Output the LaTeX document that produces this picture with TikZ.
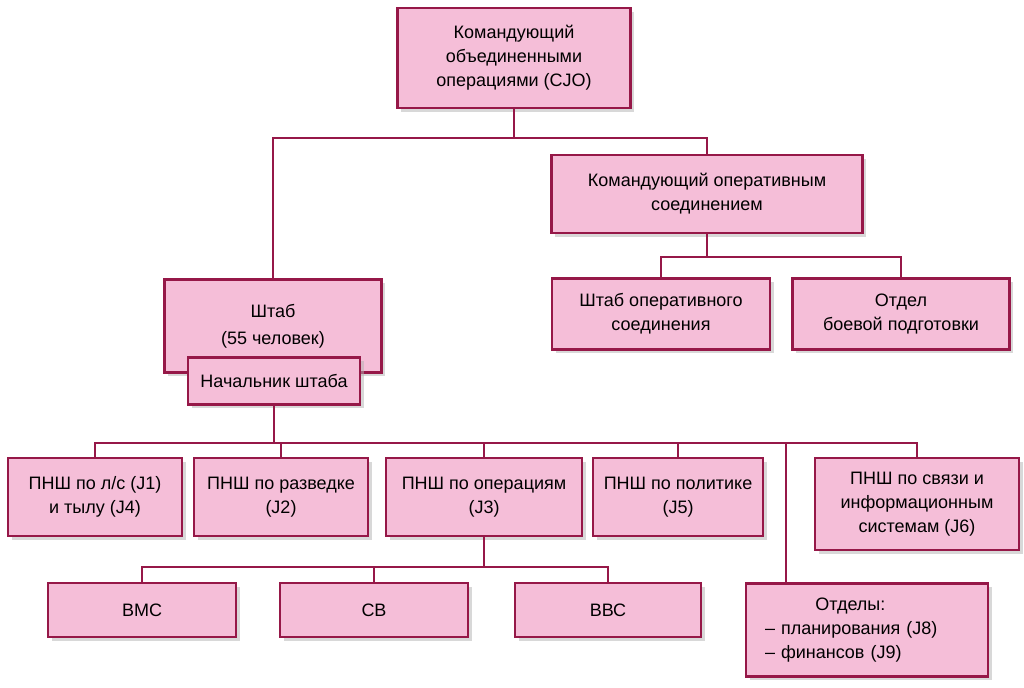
\documentclass[tikz,border=0pt]{standalone}
\usepackage{fontspec}
\setmainfont{Liberation Sans}
\usepackage{xcolor}
\usepackage{tikz}
\usetikzlibrary{positioning,shadows,calc}
\definecolor{boxfill}{RGB}{245,190,216}
\definecolor{boxline}{RGB}{150,24,72}
\newlength\pxu
\setlength\pxu{0.025cm}

\begin{document}
\begin{tikzpicture}[
    x=\pxu, y=-\pxu,
    font=\fontsize{12.8}{17}\selectfont,
    unit/.style={
        draw=boxline,
        line width=1.7pt,
        fill=boxfill,
        align=center,
        inner sep=0pt,
        drop shadow={shadow xshift=2.5pt, shadow yshift=-2.5pt, fill=black!30, opacity=0.5}
    },
    link/.style={draw=boxline, line width=1.7pt}
]
\useasboundingbox (0,0) rectangle (1024,687);

% command level
\node[unit, minimum width=233\pxu, minimum height=100\pxu] (cjo) at (514,58)
{Командующий\\объединенными\\операциями (CJO)};

\node[unit, minimum width=311\pxu, minimum height=78\pxu] (kos) at (707,194)
{Командующий оперативным\\соединением};

\node[unit, minimum width=218\pxu, minimum height=71\pxu] (shos) at (661,314)
{Штаб оперативного\\соединения};

\node[unit, minimum width=217\pxu, minimum height=71\pxu] (obp) at (901,314)
{Отдел\\боевой подготовки};

% headquarters
\node[unit, minimum width=217\pxu, minimum height=93\pxu] (staff) at (273,326)
{Штаб\\[2pt](55 человек)};

\node[unit, minimum width=172\pxu, minimum height=47\pxu] (chief) at (274,381)
{Начальник штаба};

% staff sections
\node[unit, minimum width=174\pxu, minimum height=78\pxu] (j1) at (95,497)
{ПНШ по л/с (J1)\\и тылу (J4)};

\node[unit, minimum width=174\pxu, minimum height=78\pxu] (j2) at (281,497)
{ПНШ по разведке\\(J2)};

\node[unit, minimum width=196\pxu, minimum height=78\pxu] (j3) at (484,497)
{ПНШ по операциям\\(J3)};

\node[unit, minimum width=170\pxu, minimum height=78\pxu] (j5) at (678,497)
{ПНШ по политике\\(J5)};

\node[unit, minimum width=204\pxu, minimum height=92\pxu] (j6) at (917,504)
{ПНШ по связи и\\информационным\\системам (J6)};

% services
\node[unit, minimum width=188\pxu, minimum height=54\pxu] (vmc) at (142,610)
{ВМС};

\node[unit, minimum width=188\pxu, minimum height=54\pxu] (sv) at (374,610)
{СВ};

\node[unit, minimum width=186\pxu, minimum height=54\pxu] (vvc) at (608,610)
{ВВС};

\node[unit, minimum width=242\pxu, minimum height=93\pxu, text width=204\pxu, align=left] (dept) at (867,630)
{\hspace*{2.8em}Отделы:\\– планирования (J8)\\– финансов (J9)};

% connectors
\coordinate (busT) at (514,138);
\coordinate (busK) at (707,257);
\coordinate (busJ) at (274,443);
\coordinate (busB) at (484,567);
\coordinate (tapD) at (786,443);

\draw[link] (cjo.south) -- (busT);
\draw[link] (staff.north) |- (busT) -| (kos.north);

\draw[link] (kos.south) -- (busK);
\draw[link] (shos.north) |- (busK) -| (obp.north);

\draw[link] (chief.south) -- (busJ);
\draw[link] (j1.north) |- (busJ) -| (j6.north);
\draw[link] (j2.north) -- (j2.north |- busJ);
\draw[link] (j3.north) -- (j3.north |- busJ);
\draw[link] (j5.north) -- (j5.north |- busJ);
\draw[link] (tapD) -- (tapD |- dept.north);

\draw[link] (j3.south) -- (busB);
\draw[link] (vmc.north) |- (busB) -| (vvc.north);
\draw[link] (sv.north) -- (sv.north |- busB);

\end{tikzpicture}
\end{document}
